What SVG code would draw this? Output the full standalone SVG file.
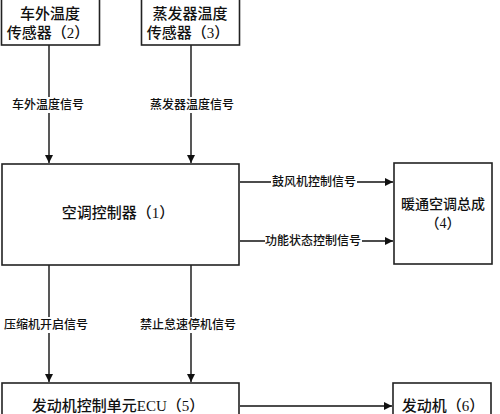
<svg xmlns="http://www.w3.org/2000/svg" width="500" height="414" viewBox="0 0 500 414">
<style>
.box{fill:#fff;stroke:#222;stroke-width:1.6}
.t{font-family:"Liberation Serif","Noto Sans CJK SC",serif;font-size:15px;font-weight:500;fill:#111;text-anchor:middle}
.s{font-size:14px}
.l{font-family:"Liberation Serif","Noto Sans CJK SC",serif;font-size:12px;font-weight:500;fill:#111;text-anchor:middle}
.ln{stroke:#111;stroke-width:1.4;fill:none}
.bg{fill:#fff}
</style>
<defs>
<marker id="ah" viewBox="0 0 10 10" refX="10" refY="5" markerWidth="8" markerHeight="8" markerUnits="userSpaceOnUse" orient="auto">
<path d="M0,0 L10,5 L0,10 z" fill="#111"/>
</marker>
</defs>
<rect width="500" height="414" fill="#fff"/>
<g id="connectors">
<line class="ln" x1="49" y1="45" x2="49" y2="163" marker-end="url(#ah)"/>
<line class="ln" x1="191" y1="45" x2="191" y2="163" marker-end="url(#ah)"/>
<line class="ln" x1="240" y1="182" x2="393" y2="182" marker-end="url(#ah)"/>
<line class="ln" x1="240" y1="241" x2="393" y2="241" marker-end="url(#ah)"/>
<line class="ln" x1="49" y1="265" x2="49" y2="382" marker-end="url(#ah)"/>
<line class="ln" x1="191" y1="265" x2="191" y2="382" marker-end="url(#ah)"/>
<line class="ln" x1="240" y1="406" x2="392" y2="406" marker-end="url(#ah)"/>
<rect class="bg" x="12" y="97" width="72" height="16"/>
<text class="l" x="48" y="109">车外温度信号</text>
<rect class="bg" x="148" y="97" width="88" height="16"/>
<text class="l" x="192" y="109">蒸发器温度信号</text>
<rect class="bg" x="271" y="174" width="86" height="16"/>
<text class="l" x="314" y="186">鼓风机控制信号</text>
<rect class="bg" x="265" y="233" width="97" height="16"/>
<text class="l" x="313" y="245">功能状态控制信号</text>
<rect class="bg" x="4" y="317" width="84" height="16"/>
<text class="l" x="46" y="329">压缩机开启信号</text>
<rect class="bg" x="139" y="317" width="97" height="16"/>
<text class="l" x="188" y="329">禁止怠速停机信号</text>
</g>
<g id="node2">
<rect class="box" x="1.5" y="-2" width="98" height="47"/>
<text class="t" x="50" y="19">车外温度</text>
<text class="t" x="48" y="38">传感器（2）</text>
</g>
<g id="node3">
<rect class="box" x="141.5" y="-2" width="98" height="47"/>
<text class="t" x="190" y="19">蒸发器温度</text>
<text class="t" x="188" y="38">传感器（3）</text>
</g>
<g id="node1">
<rect class="box" x="2" y="164" width="237" height="101"/>
<text class="t" x="118" y="218">空调控制器（1）</text>
</g>
<g id="node4">
<rect class="box" x="394" y="163" width="98" height="101"/>
<text class="t s" x="443" y="209">暖通空调总成</text>
<text class="t s" x="443" y="228">（4）</text>
</g>
<g id="node5">
<rect class="box" x="2" y="383" width="237" height="40"/>
<text class="t" x="118" y="411">发动机控制单元ECU（5）</text>
</g>
<g id="node6">
<rect class="box" x="393" y="383" width="98" height="40"/>
<text class="t" x="443" y="411">发动机（6）</text>
</g>
</svg>
